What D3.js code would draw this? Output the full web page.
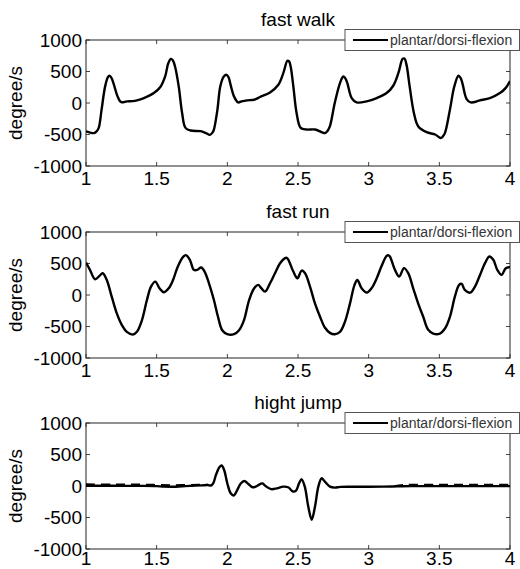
<!DOCTYPE html>
<html lang="en">
<head>
<meta charset="utf-8">
<script src="https://cdn.jsdelivr.net/npm/d3@7"></script>
<style>
  body { margin: 0; background: #fff; }
  svg { display: block; font-family: "Liberation Sans", Arial, sans-serif; }
</style>
</head>
<body>
<svg id="chart" width="520" height="569"></svg>
<script>
// angular velocity, [time, degree/s]
var walk = [[1.0,-450],[1.03,-470],[1.055,-478],[1.075,-450],[1.09,-395],[1.11,-110],[1.135,260],[1.155,410],[1.166,432],[1.18,400],[1.194,316],[1.223,105],[1.24,30],[1.254,10],[1.29,26],[1.33,30],[1.36,42],[1.41,79],[1.48,158],[1.526,253],[1.56,421],[1.582,630],[1.6,700],[1.614,680],[1.63,579],[1.656,263],[1.68,-158],[1.704,-395],[1.74,-437],[1.81,-447],[1.846,-474],[1.877,-505],[1.895,-470],[1.905,-421],[1.93,-105],[1.95,263],[1.975,420],[1.995,447],[2.01,400],[2.02,316],[2.047,105],[2.076,10],[2.1,25],[2.14,42],[2.19,52],[2.231,95],[2.302,168],[2.361,290],[2.396,474],[2.425,670],[2.437,660],[2.448,579],[2.467,263],[2.49,-158],[2.519,-395],[2.561,-421],[2.62,-421],[2.667,-463],[2.69,-478],[2.71,-440],[2.726,-368],[2.76,0],[2.797,316],[2.82,421],[2.835,390],[2.849,316],[2.88,79],[2.915,10],[2.986,26],[3.057,79],[3.127,158],[3.174,274],[3.21,474],[3.24,700],[3.253,705],[3.268,605],[3.29,263],[3.32,-158],[3.35,-368],[3.41,-463],[3.47,-500],[3.51,-555],[3.525,-530],[3.54,-474],[3.575,-105],[3.606,263],[3.635,432],[3.65,400],[3.663,316],[3.693,63],[3.722,10],[3.788,42],[3.858,79],[3.929,158],[3.97,240],[4.0,350]];

var run = [[1.0,516],[1.028,399],[1.064,250],[1.095,303],[1.118,346],[1.147,239],[1.182,-27],[1.218,-293],[1.254,-479],[1.289,-585],[1.332,-628],[1.36,-585],[1.396,-399],[1.431,-80],[1.46,133],[1.49,213],[1.52,106],[1.55,43],[1.585,106],[1.616,239],[1.645,426],[1.68,585],[1.706,633],[1.735,559],[1.763,399],[1.787,399],[1.815,436],[1.839,372],[1.87,186],[1.905,-80],[1.934,-346],[1.964,-559],[2.0,-622],[2.047,-622],[2.083,-559],[2.118,-399],[2.154,-80],[2.19,106],[2.218,160],[2.24,110],[2.267,53],[2.302,186],[2.337,346],[2.373,505],[2.408,585],[2.42,590],[2.432,559],[2.467,372],[2.496,266],[2.526,388],[2.55,346],[2.585,133],[2.62,-133],[2.656,-346],[2.69,-516],[2.726,-601],[2.76,-622],[2.797,-585],[2.832,-426],[2.868,-133],[2.9,160],[2.92,239],[2.95,106],[2.986,37],[3.02,106],[3.057,266],[3.092,463],[3.127,622],[3.14,630],[3.15,612],[3.186,399],[3.216,293],[3.25,426],[3.28,346],[3.315,106],[3.35,-133],[3.386,-346],[3.42,-548],[3.457,-612],[3.504,-612],[3.54,-532],[3.575,-346],[3.61,-27],[3.64,160],[3.658,176],[3.68,80],[3.717,37],[3.752,133],[3.788,319],[3.823,505],[3.854,612],[3.882,559],[3.91,399],[3.94,319],[3.97,426],[3.995,441],[4.0,440]];

var jump = [[1.0,5],[1.1,4],[1.2,3],[1.3,2],[1.4,2],[1.5,-2],[1.55,-10],[1.62,-12],[1.68,-3],[1.75,4],[1.82,10],[1.86,15],[1.885,8],[1.9,40],[1.92,180],[1.945,300],[1.96,325],[1.978,250],[2.0,40],[2.025,-120],[2.045,-150],[2.07,-65],[2.095,40],[2.12,80],[2.147,35],[2.178,-20],[2.2,-10],[2.235,35],[2.25,40],[2.27,0],[2.31,-50],[2.35,-38],[2.395,-10],[2.43,-20],[2.465,-88],[2.486,-72],[2.508,45],[2.526,106],[2.548,-10],[2.573,-330],[2.597,-535],[2.62,-330],[2.644,-10],[2.667,122],[2.69,70],[2.726,-10],[2.76,-25],[2.8,-14],[2.9,-12],[3.0,-12],[3.1,-10],[3.2,-6],[3.3,-2],[3.5,-2],[3.7,-2],[4.0,-2]];

// second (dashed) trace, only visible where it leaves the solid one
var jumpDashed = [[1.0,25],[1.2,22],[1.4,20],[1.6,12],[1.8,18],[1.86,20],null,[3.18,-4],[3.25,15],[3.5,18],[3.75,18],[4.0,18]];

var panels = [
  {title: "fast walk", data: walk, dashed: null},
  {title: "fast run", data: run, dashed: null},
  {title: "hight jump", data: jump, dashed: jumpDashed}
];

var xTicks = [1, 1.5, 2, 2.5, 3, 3.5, 4];
var yTicks = [-1000, -500, 0, 500, 1000];
var legendLabel = "plantar/dorsi-flexion";
var yLabel = "degree/s";

var W = 520, H = 569;
var left = 86, right = 510, ph = 126;
var tops = [40, 232, 423];

var svg = d3.select("#chart");
svg.append("rect").attr("width", W).attr("height", H).attr("fill", "#fff");

var x = d3.scaleLinear().domain([1, 4]).range([left, right]);

panels.forEach(function(p, i) {
  var top = tops[i], bottom = top + ph;
  var y = d3.scaleLinear().domain([-1000, 1000]).range([bottom, top]);
  var g = svg.append("g");

  g.append("clipPath").attr("id", "clip" + i)
    .append("rect").attr("x", left).attr("y", top).attr("width", right - left).attr("height", ph);

  //x labels sit 19px under the axis, but must stay inside the picture
  var labelY = Math.min(bottom + 19, H - 4);

  //inward ticks on all four sides
  var tk = 4;
  xTicks.forEach(function(t) {
    g.append("line").attr("x1", x(t)).attr("x2", x(t)).attr("y1", bottom).attr("y2", bottom - tk)
      .attr("stroke", "#444");
    g.append("line").attr("x1", x(t)).attr("x2", x(t)).attr("y1", top).attr("y2", top + tk)
      .attr("stroke", "#444");
    g.append("text").attr("x", x(t)).attr("y", labelY)
      .attr("text-anchor", "middle").attr("font-size", 19).text(t);
  });
  yTicks.forEach(function(t) {
    g.append("line").attr("x1", left).attr("x2", left + tk).attr("y1", y(t)).attr("y2", y(t))
      .attr("stroke", "#444");
    g.append("line").attr("x1", right).attr("x2", right - tk).attr("y1", y(t)).attr("y2", y(t))
      .attr("stroke", "#444");
    g.append("text").attr("x", left - 4).attr("y", y(t)).attr("dy", "0.36em")
      .attr("text-anchor", "end").attr("font-size", 19).text(t);
  });

  g.append("rect").attr("x", left).attr("y", top).attr("width", right - left).attr("height", ph)
    .attr("fill", "none").attr("stroke", "#222").attr("stroke-width", 1);

  var line = d3.line()
    .defined(function(d) { return d !== null; })
    .x(function(d) { return x(d[0]); })
    .y(function(d) { return y(d[1]); })
    .curve(d3.curveCatmullRom.alpha(0.5));

  if (p.dashed) {
    g.append("path").datum(p.dashed).attr("d", line)
      .attr("fill", "none").attr("stroke", "#000").attr("stroke-width", 2.2)
      .attr("stroke-dasharray", "9,6").attr("clip-path", "url(#clip" + i + ")");
  }
  g.append("path").datum(p.data).attr("d", line)
    .attr("fill", "none").attr("stroke", "#000").attr("stroke-width", 2.4)
    .attr("stroke-linejoin", "round")
    .attr("clip-path", "url(#clip" + i + ")");

  //title
  g.append("text").attr("x", (left + right) / 2).attr("y", top - 14)
    .attr("text-anchor", "middle").attr("font-size", 19).text(p.title);

  //y label
  g.append("text").attr("transform", "translate(22," + (top + ph / 2) + ") rotate(-90)")
    .attr("text-anchor", "middle").attr("font-size", 19).text(yLabel);

  //legend
  var lg = g.append("g").attr("transform", "translate(345," + (top - 10.5) + ")");
  lg.append("rect").attr("width", 174.5).attr("height", 21)
    .attr("fill", "#fff").attr("stroke", "#555").attr("stroke-width", 1);
  lg.append("line").attr("x1", 8).attr("x2", 43).attr("y1", 10.5).attr("y2", 10.5)
    .attr("stroke", "#000").attr("stroke-width", 2);
  lg.append("text").attr("x", 45).attr("y", 15.5).attr("font-size", 14)
    .attr("fill", "#333").text(legendLabel);
});
</script>
</body>
</html>
